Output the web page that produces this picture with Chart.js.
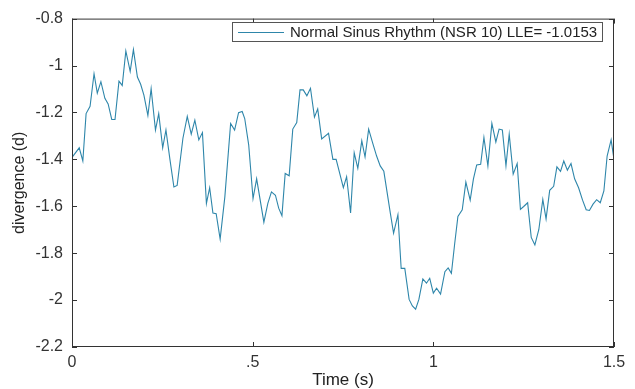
<!DOCTYPE html>
<html>
<head>
  <title>Divergence</title>
  <script src="https://cdn.jsdelivr.net/npm/chart.js@4.4.1/dist/chart.umd.min.js"></script>
  <style>
    body { margin: 0; background: #fff; }
    #wrap { width: 635px; height: 389px; }
  </style>
</head>
<body>
  <div id="wrap"><canvas id="chart" width="635" height="389"></canvas></div>
  <script>
    // values
    const timeS = [
      0.000, 0.020, 0.030, 0.039, 0.050, 0.061, 0.070, 0.080, 0.091, 0.100,
      0.110, 0.119, 0.130, 0.139, 0.149, 0.161, 0.170, 0.181, 0.190, 0.199,
      0.210, 0.219, 0.231, 0.240, 0.251, 0.260, 0.271, 0.282, 0.291, 0.307,
      0.319, 0.330, 0.340, 0.351, 0.361, 0.372, 0.381, 0.390, 0.399, 0.410,
      0.423, 0.439, 0.450, 0.461, 0.471, 0.478, 0.489, 0.501, 0.511, 0.531,
      0.542, 0.552, 0.563, 0.572, 0.581, 0.590, 0.601, 0.611, 0.622, 0.631,
      0.640, 0.650, 0.660, 0.671, 0.680, 0.691, 0.710, 0.722, 0.731, 0.751,
      0.760, 0.771, 0.781, 0.791, 0.802, 0.811, 0.821, 0.832, 0.843, 0.853,
      0.863, 0.881, 0.890, 0.902, 0.911, 0.921, 0.933, 0.942, 0.951, 0.960,
      0.971, 0.981, 0.990, 1.000, 1.009, 1.020, 1.032, 1.041, 1.050, 1.059,
      1.068, 1.080, 1.090, 1.102, 1.111, 1.120, 1.131, 1.140, 1.151, 1.162,
      1.173, 1.182, 1.191, 1.201, 1.210, 1.221, 1.232, 1.241, 1.250, 1.261,
      1.271, 1.281, 1.292, 1.303, 1.312, 1.322, 1.333, 1.342, 1.352, 1.361,
      1.371, 1.381, 1.391, 1.402, 1.413, 1.423, 1.432, 1.442, 1.452, 1.462,
      1.472, 1.481, 1.492, 1.500
    ];
    const divergence = [
      -1.392, -1.351, -1.407, -1.205, -1.174, -1.035, -1.118, -1.069, -1.140, -1.164,
      -1.230, -1.230, -1.067, -1.085, -0.938, -1.025, -0.932, -1.049, -1.080, -1.126,
      -1.213, -1.099, -1.275, -1.205, -1.351, -1.275, -1.400, -1.518, -1.511, -1.310,
      -1.217, -1.293, -1.233, -1.317, -1.286, -1.588, -1.521, -1.629, -1.632, -1.740,
      -1.560, -1.247, -1.275, -1.201, -1.196, -1.226, -1.338, -1.567, -1.483, -1.668,
      -1.588, -1.539, -1.553, -1.608, -1.640, -1.460, -1.470, -1.271, -1.243, -1.104,
      -1.104, -1.129, -1.097, -1.220, -1.185, -1.313, -1.289, -1.400, -1.400, -1.521,
      -1.474, -1.629, -1.372, -1.438, -1.321, -1.390, -1.271, -1.330, -1.386, -1.428,
      -1.451, -1.629, -1.715, -1.636, -1.865, -1.865, -1.997, -2.025, -2.039, -1.997,
      -1.910, -1.928, -1.907, -1.970, -1.949, -1.974, -1.879, -1.863, -1.886, -1.761,
      -1.643, -1.615, -1.497, -1.574, -1.483, -1.424, -1.421, -1.307, -1.428, -1.247,
      -1.326, -1.271, -1.275, -1.428, -1.293, -1.463, -1.418, -1.613, -1.601, -1.585,
      -1.733, -1.765, -1.699, -1.571, -1.654, -1.532, -1.515, -1.432, -1.451, -1.407,
      -1.446, -1.418, -1.483, -1.521, -1.574, -1.615, -1.618, -1.591, -1.572, -1.585,
      -1.535, -1.386, -1.317, -1.400
    ];
    const seriesLabel = 'Normal Sinus Rhythm (NSR 10) LLE= -1.0153';
    const xTickValues = [0, 0.5, 1, 1.5];
    const xTickLabels = ['0', '.5', '1', '1.5'];
    const yTickValues = [-2.2, -2, -1.8, -1.6, -1.4, -1.2, -1, -0.8];
    const yTickLabels = ['-2.2', '-2', '-1.8', '-1.6', '-1.4', '-1.2', '-1', '-0.8'];

    const lineColor = '#2e86aa';
    const axisColor = '#333333';
    const fontFamily = '"Liberation Sans", Arial, sans-serif';

    // box, inward ticks on all four sides, and the legend inside the plot
    const matlabFrame = {
      id: 'matlabFrame',
      afterDraw(chart) {
        const {ctx, chartArea: a, scales: {x, y}} = chart;
        ctx.save();
        ctx.strokeStyle = axisColor;
        ctx.lineWidth = 1;
        ctx.strokeRect(a.left + 0.5, a.top + 0.5, a.right - a.left - 1, a.bottom - a.top - 1);
        ctx.beginPath();
        const tl = 5;
        xTickValues.forEach(v => {
          const px = Math.round(x.getPixelForValue(v)) + 0.5;
          ctx.moveTo(px, a.bottom); ctx.lineTo(px, a.bottom - tl);
          ctx.moveTo(px, a.top); ctx.lineTo(px, a.top + tl);
        });
        yTickValues.forEach(v => {
          const py = Math.round(y.getPixelForValue(v)) + 0.5;
          ctx.moveTo(a.left, py); ctx.lineTo(a.left + tl, py);
          ctx.moveTo(a.right, py); ctx.lineTo(a.right - tl, py);
        });
        ctx.stroke();

        // legend
        const lx = 232, ly = 22, lw = 370, lh = 19;
        ctx.fillStyle = '#fff';
        ctx.fillRect(lx, ly, lw, lh);
        ctx.strokeStyle = '#555';
        ctx.strokeRect(lx + 0.5, ly + 0.5, lw, lh);
        ctx.strokeStyle = lineColor;
        ctx.beginPath();
        ctx.moveTo(lx + 6, ly + 10.5);
        ctx.lineTo(lx + 52, ly + 10.5);
        ctx.stroke();
        ctx.fillStyle = '#222';
        ctx.font = '15px ' + fontFamily;
        ctx.textBaseline = 'middle';
        ctx.fillText(seriesLabel, lx + 58, ly + 11);
        ctx.restore();
      }
    };

    new Chart(document.getElementById('chart'), {
      type: 'line',
      data: {
        datasets: [{
          label: seriesLabel,
          data: timeS.map((t, i) => ({x: t, y: divergence[i]})),
          borderColor: lineColor,
          borderWidth: 1.1,
          pointRadius: 0,
          tension: 0,
          fill: false
        }]
      },
      options: {
        responsive: false,
        animation: false,
        layout: {padding: {top: 11, right: 21, left: 0, bottom: 0}},
        plugins: {legend: {display: false}, tooltip: {enabled: false}},
        scales: {
          x: {
            type: 'linear',
            min: 0,
            max: 1.5,
            afterBuildTicks: s => { s.ticks = xTickValues.map(v => ({value: v})); },
            afterFit: s => { s.height = 42; },
            grid: {display: false, drawTicks: false},
            border: {display: false},
            ticks: {
              padding: 6,
              color: axisColor,
              font: {family: fontFamily, size: 16},
              maxRotation: 0,
              callback: (v, i) => xTickLabels[i]
            },
            title: {
              display: true,
              text: 'Time (s)',
              color: '#222',
              font: {family: fontFamily, size: 17, lineHeight: 1},
              padding: {top: 0, bottom: 0}
            }
          },
          y: {
            min: -2.2,
            max: -0.8,
            afterBuildTicks: s => { s.ticks = yTickValues.map(v => ({value: v})); },
            afterFit: s => { s.width = 72; },
            grid: {display: false, drawTicks: false},
            border: {display: false},
            ticks: {
              padding: 9,
              color: axisColor,
              font: {family: fontFamily, size: 16},
              callback: (v, i) => yTickLabels[i]
            },
            title: {
              display: true,
              text: 'divergence (d)',
              color: '#222',
              font: {family: fontFamily, size: 16, lineHeight: 1},
              padding: {top: 12, bottom: 0}
            }
          }
        }
      },
      plugins: [matlabFrame]
    });
  </script>
</body>
</html>
